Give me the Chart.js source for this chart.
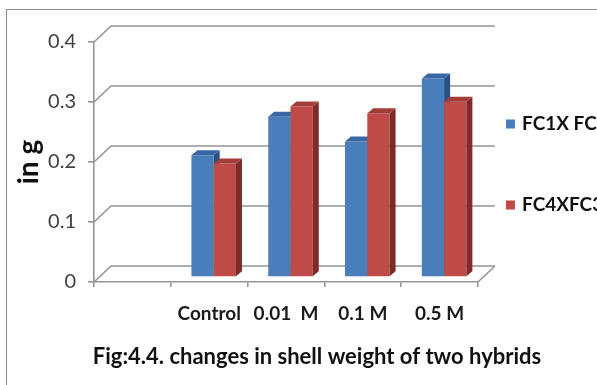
<!DOCTYPE html>
<html>
<head>
<meta charset="utf-8">
<script src="https://cdn.jsdelivr.net/npm/chart.js@4/dist/chart.umd.min.js"></script>
<style>
  html, body { margin: 0; padding: 0; background: #ffffff; }
  #wrap { width: 597px; height: 385px; position: relative; }
</style>
</head>
<body>
<div id="wrap"><canvas id="c"></canvas></div>
<script>
// ---- data ----
const categories = ['', 'Control', '0.01  M', '0.1 M', '0.5 M'];
const seriesNames = ['FC1X FC2', 'FC4XFC3'];
const fc1xfc2 = [null, 0.203, 0.267, 0.226, 0.331];
const fc4xfc3 = [null, 0.189, 0.284, 0.273, 0.292];
const yTicks = [0, 0.1, 0.2, 0.3, 0.4];
const yTickLabels = ['0', '0.1', '0.2', '0.3', '0.4'];
const yAxisTitle = 'in g';
const caption = 'Fig:4.4. changes in shell weight of two hybrids';

// ---- styling ----
const FONT = 'Lato';
const fronts = ['#4A7EBB', '#BE4B48'];
const tops = ['#3A67A3', '#A23D3A'];
const sides = ['#2B5183', '#7E2B29'];
const GRID = '#959595';
const WALL_DX = 17, WALL_DY = -16;   // depth of the 3D back wall
const BAR_DX = 4.5, BAR_DY = -5;     // depth plane of the bars
const FACE_DX = 6, FACE_DY = -5;     // bar thickness

const threeD = {
  id: 'threeD',
  beforeDraw(chart) {
    const ctx = chart.ctx;
    ctx.save();
    ctx.strokeStyle = '#8a8a8a';
    ctx.lineWidth = 1;
    ctx.strokeRect(6.5, 9.5, 700, 500);
    ctx.restore();
  },
  beforeDatasetsDraw(chart) {
    const ctx = chart.ctx, a = chart.chartArea, y = chart.scales.y;
    ctx.save();
    ctx.strokeStyle = GRID;
    ctx.lineWidth = 1.6;
    yTicks.forEach(v => {
      const py = y.getPixelForValue(v);
      ctx.beginPath();
      ctx.moveTo(a.left, py);
      ctx.lineTo(a.left + WALL_DX, py + WALL_DY);
      ctx.lineTo(a.right + WALL_DX, py + WALL_DY);
      ctx.stroke();
    });
    ctx.beginPath();
    ctx.moveTo(a.right, a.bottom);
    ctx.lineTo(a.right + WALL_DX, a.bottom + WALL_DY);
    ctx.stroke();
    ctx.restore();
  },
  beforeDatasetDraw() { return false; },
  afterDatasetsDraw(chart) {
    const ctx = chart.ctx;
    ctx.save();
    ctx.translate(BAR_DX, BAR_DY);
    const n = chart.data.datasets.length;
    for (let d = 0; d < n; d++) {
      const meta = chart.getDatasetMeta(d);
      const values = chart.data.datasets[d].data;
      meta.data.forEach((el, i) => {
        if (values[i] == null) return;
        const p = el.getProps(['x', 'y', 'base', 'width'], true);
        const l = p.x - p.width / 2, r = p.x + p.width / 2;
        el.draw(ctx);
        // side
        ctx.fillStyle = sides[d];
        ctx.beginPath();
        ctx.moveTo(r, p.base);
        ctx.lineTo(r, p.y);
        ctx.lineTo(r + FACE_DX, p.y + FACE_DY);
        ctx.lineTo(r + FACE_DX, p.base + FACE_DY);
        ctx.closePath();
        ctx.fill();
        // top
        ctx.fillStyle = tops[d];
        ctx.beginPath();
        ctx.moveTo(l, p.y);
        ctx.lineTo(r, p.y);
        ctx.lineTo(r + FACE_DX, p.y + FACE_DY);
        ctx.lineTo(l + FACE_DX, p.y + FACE_DY);
        ctx.closePath();
        ctx.fill();
      });
    }
    ctx.restore();
  },
  afterDraw(chart) {
    const ctx = chart.ctx;
    ctx.save();
    // legend
    const legendY = [124, 205];
    chart.data.datasets.forEach((ds, i) => {
      ctx.fillStyle = fronts[i];
      ctx.fillRect(506, legendY[i] - 4.5, 9, 9);
      ctx.fillStyle = '#111111';
      ctx.font = 'bold 19px ' + FONT;
      ctx.textBaseline = 'middle';
      ctx.textAlign = 'left';
      ctx.fillText(ds.label, 522, legendY[i]);
    });
    // caption
    ctx.font = 'bold 22px ' + FONT;
    ctx.fillStyle = '#111111';
    ctx.textAlign = 'center';
    ctx.textBaseline = 'middle';
    ctx.fillText(caption, 317, 357);
    ctx.restore();
  }
};

new Chart(document.getElementById('c'), {
  type: 'bar',
  data: {
    labels: categories,
    datasets: [
      { label: seriesNames[0], data: fc1xfc2, backgroundColor: fronts[0], borderWidth: 0 },
      { label: seriesNames[1], data: fc4xfc3, backgroundColor: fronts[1], borderWidth: 0 }
    ]
  },
  options: {
    responsive: true,
    maintainAspectRatio: false,
    animation: false,
    events: [],
    layout: { padding: { left: 8, top: 42, right: 119, bottom: 0 } },
    datasets: { bar: { categoryPercentage: 0.58, barPercentage: 1.0 } },
    plugins: { legend: { display: false }, tooltip: { enabled: false }, title: { display: false } },
    scales: {
      x: {
        offset: true,
        afterFit(s) { s.height = 103; },
        grid: { offset: true, drawOnChartArea: false, drawTicks: true, tickLength: 5, color: GRID, lineWidth: 1.6 },
        border: { display: true, color: GRID, width: 1.6 },
        ticks: { font: { family: FONT, size: 19, weight: 'bold' }, color: '#1a1a1a', padding: 15, maxRotation: 0, autoSkip: false }
      },
      y: {
        min: 0, max: 0.4,
        afterFit(s) { s.width = 86; },
        afterBuildTicks(s) { s.ticks = yTicks.map(v => ({ value: v })); },
        grid: { drawOnChartArea: false, drawTicks: true, tickLength: 6, color: GRID, lineWidth: 1.6 },
        border: { display: true, color: GRID, width: 1.6 },
        ticks: {
          font: { family: FONT, size: 20 }, color: '#404040', padding: 12,
          callback: (v, i) => yTickLabels[i]
        },
        title: { display: true, text: yAxisTitle, font: { family: FONT, size: 28, weight: 'bold' }, color: '#111111', padding: { top: 4 } }
      }
    }
  },
  plugins: [threeD]
});
</script>
</body>
</html>
